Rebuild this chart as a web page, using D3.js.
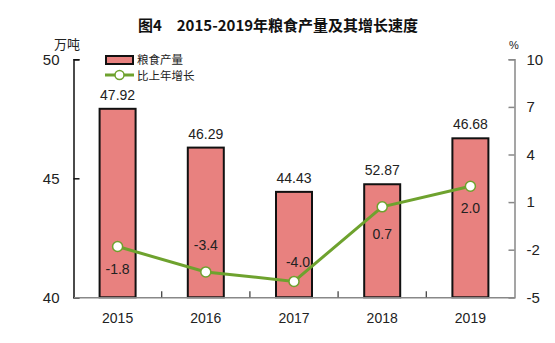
<!DOCTYPE html>
<html><head><meta charset="utf-8">
<script src="https://cdn.jsdelivr.net/npm/d3@7"></script>
<style>body{margin:0;background:#fff;} svg{display:block;font-family:"Liberation Sans","Noto Sans CJK SC",sans-serif;}</style>
</head><body>
<svg id="c" width="555" height="343"></svg>
<script>
const years = ["2015","2016","2017","2018","2019"];
const production = [47.92, 46.29, 44.43, 44.75, 46.68];
const productionLabels = ["47.92","46.29","44.43","52.87","46.68"];
const growth = [-1.8, -3.4, -4.0, 0.7, 2.0];
const growthLabels = ["-1.8","-3.4","-4.0","0.7","2.0"];
const leftTicks = [40, 45, 50];
const rightTicks = [-5, -2, 1, 4, 7, 10];

const svg = d3.select("#c");
const L = 73.5, R = 514.5, T = 59.3, B = 297.3;
const x = d3.scaleBand().domain(years).range([L, R]).paddingInner(0).paddingOuter(0);
const yL = d3.scaleLinear().domain([40, 50]).range([B, T]);
const yR = d3.scaleLinear().domain([-5, 10]).range([B, T]);
const barW = 36;
const fontCJK = '"Noto Sans CJK SC",sans-serif';

// title
svg.append("text").attr("x", 278).attr("y", 31).attr("text-anchor","middle")
  .style("font-family", fontCJK).style("font-size","15px").style("font-weight","bold").attr("fill","#111")
  .text("图4\u30002015-2019年粮食产量及其增长速度");

// units
svg.append("text").attr("x", 67).attr("y", 49).attr("text-anchor","middle")
  .style("font-family", fontCJK).style("font-size","13px").attr("fill","#222").text("万吨");
svg.append("text").attr("x", 514).attr("y", 49).attr("text-anchor","middle")
  .style("font-size","11px").attr("fill","#222").text("%");

// bars
svg.selectAll("rect.bar").data(years).join("rect").attr("class","bar")
  .attr("x", d => x(d) + x.bandwidth()/2 - barW/2)
  .attr("y", (d,i) => yL(production[i]))
  .attr("width", barW)
  .attr("height", (d,i) => yL(40) - yL(production[i]))
  .attr("fill", "#e8817f").attr("stroke", "#111").attr("stroke-width", 2);

svg.selectAll("text.bl").data(years).join("text").attr("class","bl")
  .attr("x", d => x(d) + x.bandwidth()/2)
  .attr("y", (d,i) => yL(production[i]) - 9)
  .attr("text-anchor","middle").style("font-size","14px").attr("fill","#222")
  .text((d,i) => productionLabels[i]);

// axes
const fmt = d => String(d);
const axL = d3.axisLeft(yL).tickValues(leftTicks).tickFormat(fmt).tickSize(-6).tickPadding(14);
const gL = svg.append("g").attr("transform", `translate(${L},0)`).call(axL);
gL.select(".domain").attr("stroke","#111").attr("stroke-width",1.5);
gL.selectAll(".tick line").attr("stroke","#111").attr("stroke-width",1.5);
gL.selectAll(".tick text").style("font-size","15px").attr("fill","#222");

const axR = d3.axisRight(yR).tickValues(rightTicks).tickFormat(fmt).tickSize(-6).tickPadding(12);
const gR = svg.append("g").attr("transform", `translate(${R},0)`).call(axR);
gR.select(".domain").attr("stroke","#888").attr("stroke-width",1.5);
gR.selectAll(".tick line").attr("stroke","#888").attr("stroke-width",1.5);
gR.selectAll(".tick text").style("font-size","15px").attr("fill","#222");

const axB = d3.axisBottom(x).tickSize(0).tickPadding(16);
const gB = svg.append("g").attr("transform", `translate(0,${B})`).call(axB);
gB.select(".domain").attr("stroke","#888").attr("stroke-width",1.5);
gB.selectAll(".tick text").style("font-size","14px").attr("fill","#222");
// category separators
svg.selectAll("line.sep").data(years.slice(1)).join("line").attr("class","sep")
  .attr("x1", d => x(d)).attr("x2", d => x(d)).attr("y1", B).attr("y2", B-6)
  .attr("stroke","#444").attr("stroke-width",1.3);

// line
const line = d3.line().x((d,i) => x(years[i]) + x.bandwidth()/2).y(d => yR(d));
svg.append("path").datum(growth).attr("d", line).attr("fill","none")
  .attr("stroke","#6ea22e").attr("stroke-width",3);
svg.selectAll("circle.pt").data(growth).join("circle").attr("class","pt")
  .attr("cx", (d,i) => x(years[i]) + x.bandwidth()/2).attr("cy", d => yR(d)).attr("r", 5)
  .attr("fill","#fff").attr("stroke","#6ea22e").attr("stroke-width",1.5);

const labOff = [22, -27, -19, 27, 22];
const labDx = [0, 0, 4, 0, 0];
svg.selectAll("text.gl").data(growth).join("text").attr("class","gl")
  .attr("x", (d,i) => x(years[i]) + x.bandwidth()/2 + labDx[i])
  .attr("y", (d,i) => yR(d) + labOff[i] + 5)
  .attr("text-anchor","middle").style("font-size","14px").attr("fill","#222")
  .text((d,i) => growthLabels[i]);

// legend
const lg = svg.append("g");
lg.append("rect").attr("x",106).attr("y",56).attr("width",27).attr("height",8)
  .attr("fill","#e8817f").attr("stroke","#111").attr("stroke-width",2);
lg.append("text").attr("x",137).attr("y",64).style("font-family",fontCJK).style("font-size","11.5px").attr("fill","#222").text("粮食产量");
lg.append("line").attr("x1",105).attr("x2",134).attr("y1",75).attr("y2",75).attr("stroke","#6ea22e").attr("stroke-width",3);
lg.append("circle").attr("cx",119.5).attr("cy",75).attr("r",4.5).attr("fill","#fff").attr("stroke","#6ea22e").attr("stroke-width",1.5);
lg.append("text").attr("x",137).attr("y",79.5).style("font-family",fontCJK).style("font-size","11.5px").attr("fill","#222").text("比上年增长");
</script>
</body></html>
